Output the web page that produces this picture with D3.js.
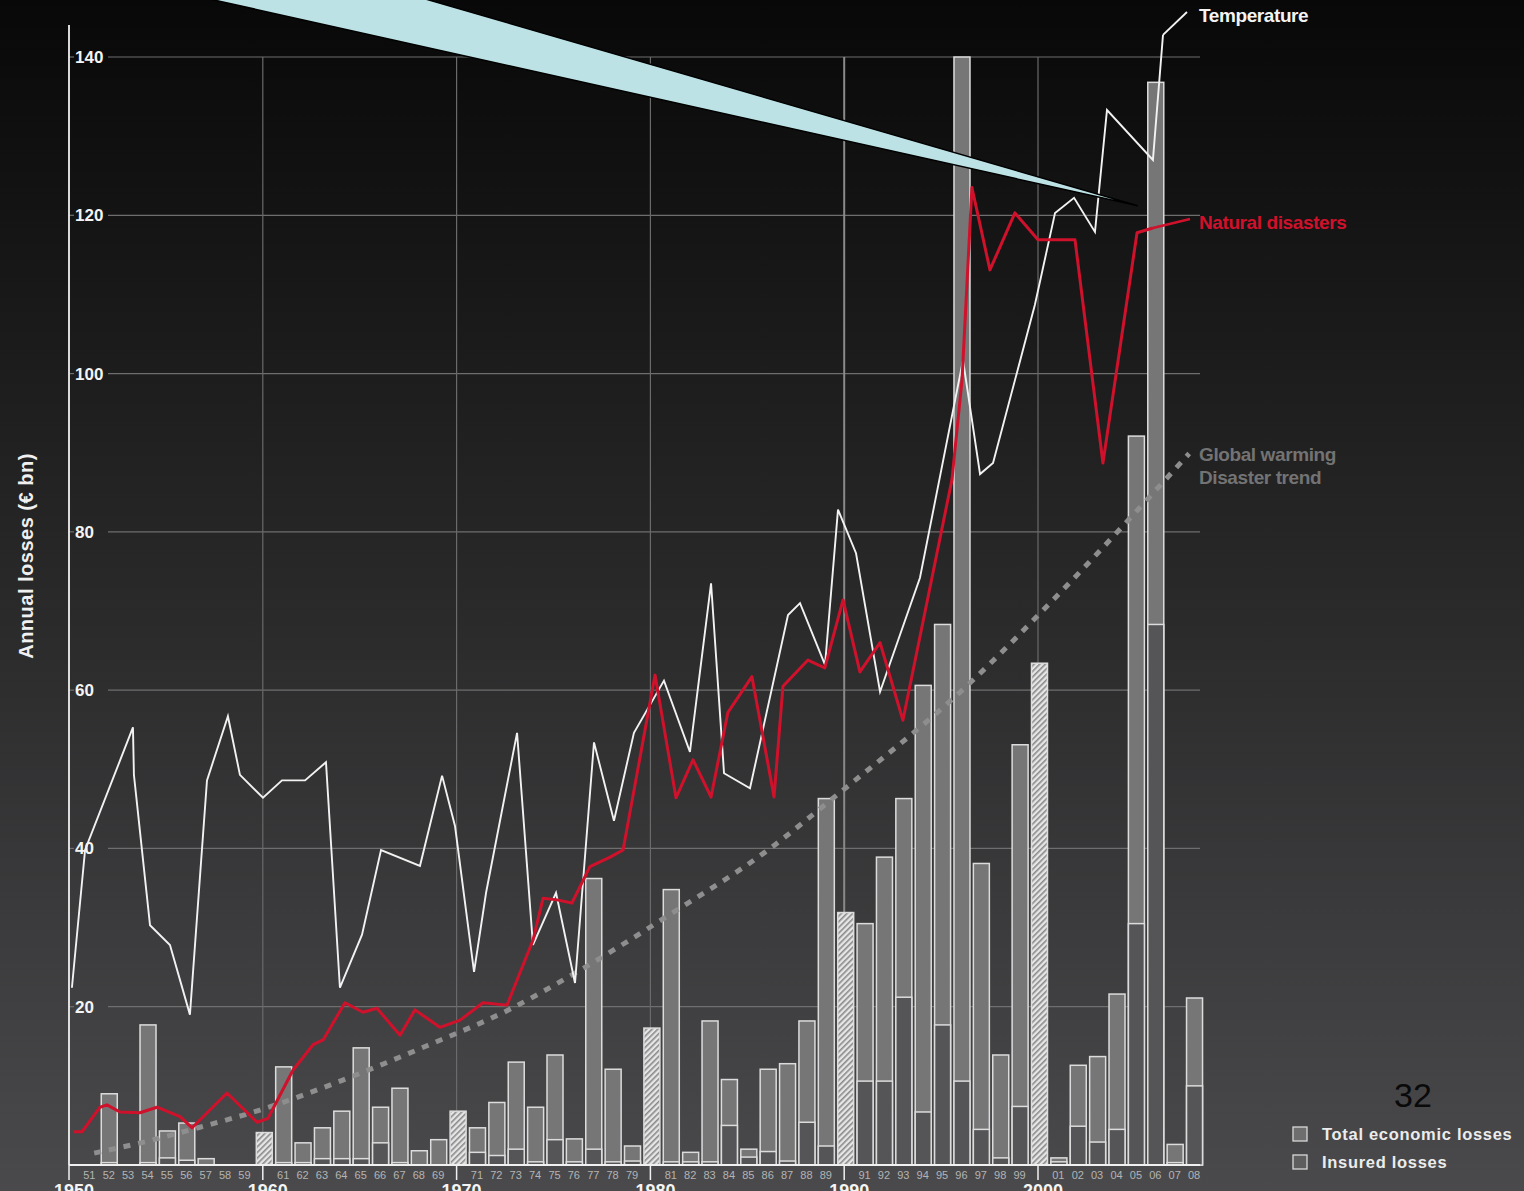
<!DOCTYPE html>
<html>
<head>
<meta charset="utf-8">
<script src="https://cdn.jsdelivr.net/npm/d3@7"></script>
<style>
  html, body { margin: 0; padding: 0; background: #000; }
  svg { display: block; }
  text { font-family: "Liberation Sans", Arial, sans-serif; }
</style>
</head>
<body>
<script>
// years 1950..2008
var years = d3.range(1950, 2009);
var decades = [1950, 1960, 1970, 1980, 1990, 2000];

// total economic losses (€ bn), one per year
var totalLosses = [
  0, 0, 9.0, 0, 17.7, 4.3, 5.3, 0.8, 0, 0,
  4.1, 12.4, 2.8, 4.7, 6.8, 14.8, 7.3, 9.7, 1.8, 3.2,
  6.8, 4.7, 7.9, 13.0, 7.3, 13.9, 3.3, 36.2, 12.1, 2.4,
  17.3, 34.8, 1.6, 18.2, 10.8, 2.0, 12.1, 12.8, 18.2, 46.3,
  31.9, 30.5, 38.9, 46.3, 60.6, 68.3, 140, 38.1, 13.9, 53.1,
  63.4, 0.9, 12.6, 13.7, 21.6, 92.1, 136.8, 2.6, 21.1
];
// insured losses (€ bn)
var insuredLosses = [
  0, 0, 0.3, 0, 0.3, 0.9, 0.6, 0, 0, 0,
  0, 0.3, 0.3, 0.8, 0.8, 0.8, 2.8, 0.3, 0, 0,
  0, 1.6, 1.2, 2.0, 0.4, 3.2, 0.4, 2.0, 0.4, 0.5,
  0, 0.4, 0.4, 0.4, 5.0, 1.0, 1.7, 0.5, 5.4, 2.4,
  0, 10.6, 10.6, 21.2, 6.7, 17.7, 10.6, 4.5, 0.9, 7.4,
  0, 0.4, 4.9, 2.9, 4.5, 30.5, 68.3, 0.3, 10.0
];

// temperature curve (drawn on the loss axis), x in years
var tempX = [1950.15, 1950.83, 1953.30, 1953.35, 1954.18, 1955.21, 1956.24, 1957.12, 1958.20, 1958.82,
  1960.01, 1960.99, 1962.18, 1963.26, 1963.98, 1965.12, 1966.10, 1968.11, 1969.25, 1969.92,
  1970.90, 1971.52, 1973.12, 1973.94, 1975.13, 1976.11, 1977.09, 1978.12, 1979.15, 1980.70,
  1982.04, 1983.13, 1983.80, 1985.14, 1987.10, 1987.72, 1989.01, 1989.68, 1990.61, 1991.85,
  1993.91, 1996.13, 1997.01, 1997.68, 1999.84, 2000.88, 2001.86, 2002.94, 2003.56, 2005.93, 2006.45];
var tempY = [22.4, 39.8, 55.3, 49.3, 30.3, 27.8, 19.0, 48.6, 56.7, 49.3,
  46.4, 48.6, 48.6, 50.9, 22.4, 29.1, 39.8, 37.8, 49.2, 42.8,
  24.4, 34.4, 54.6, 27.8, 34.4, 23.0, 53.4, 43.5, 54.6, 61.2,
  52.2, 73.5, 49.5, 47.6, 69.5, 71.0, 63.2, 82.8, 77.3, 59.8,
  74.2, 101.7, 87.3, 88.7, 108.7, 120.3, 122.2, 117.9, 133.3, 127.0, 142.8];

// natural disasters curve
var disX = [1950.21, 1950.67, 1951.60, 1951.96, 1952.63, 1953.66, 1954.54, 1955.73, 1956.35, 1958.15,
  1959.70, 1960.27, 1961.56, 1962.59, 1963.11, 1964.24, 1965.17, 1965.89, 1967.08, 1967.85,
  1969.14, 1970.18, 1971.36, 1972.60, 1973.94, 1974.46, 1975.18, 1975.95, 1976.88, 1977.92,
  1978.59, 1980.24, 1981.32, 1982.20, 1983.13, 1984.00, 1985.24, 1986.38, 1986.84, 1988.13,
  1989.00, 1989.94, 1990.81, 1991.85, 1993.03, 1995.56, 1996.08, 1996.59, 1997.52, 1998.81,
  2000.00, 2001.91, 2003.35, 2005.11, 2005.93];
var disY = [4.2, 4.2, 7.3, 7.6, 6.7, 6.6, 7.3, 6.1, 4.7, 9.1,
  5.4, 5.9, 12.0, 15.2, 15.8, 20.5, 19.3, 19.8, 16.4, 19.6,
  17.4, 18.3, 20.5, 20.2, 28.4, 33.7, 33.5, 33.1, 37.7, 38.9,
  39.8, 61.9, 46.4, 51.2, 46.5, 57.2, 61.7, 46.5, 60.5, 63.8,
  62.8, 71.4, 62.3, 66.0, 56.2, 86.6, 99.2, 123.5, 113.1, 120.3,
  116.9, 116.9, 88.7, 117.8, 118.4];

// global warming disaster trend
var trendX = [1951.3, 1953.7, 1956.8, 1959.8, 1964.1, 1968.5, 1972.6, 1976.5, 1981.1, 1985.9, 1989.7, 1996.4, 2000.7, 2007.8];
var trendY = [1.5, 2.8, 4.8, 6.9, 10.7, 15.1, 19.5, 24.8, 31.8, 39.5, 46.9, 60.7, 71.2, 89.9];

var yTicks = [20, 40, 60, 80, 100, 120, 140];

var W = 1524, H = 1191;
var svg = d3.select("body").append("svg")
    .attr("width", W)
    .attr("height", H);

var defs = svg.append("defs");
var bg = defs.append("linearGradient")
    .attr("id", "bg")
    .attr("x1", 0).attr("y1", 0).attr("x2", 0).attr("y2", 1);
bg.append("stop").attr("offset", "0%").attr("stop-color", "#080808");
bg.append("stop").attr("offset", "100%").attr("stop-color", "#4a4a4c");

var hatch = defs.append("pattern")
    .attr("id", "hatch")
    .attr("patternUnits", "userSpaceOnUse")
    .attr("width", 4).attr("height", 4)
    .attr("patternTransform", "rotate(45)");
hatch.append("rect").attr("width", 4).attr("height", 4).attr("fill", "#e6e6e6");
hatch.append("rect").attr("width", 1.6).attr("height", 4).attr("fill", "#8a8a8a");

svg.append("rect")
    .attr("width", W).attr("height", H)
    .attr("fill", "url(#bg)");

var x = d3.scaleLinear().domain([1950, 2010]).range([69, 69 + 60 * 19.38]);
var y = d3.scaleLinear().domain([0, 140]).range([1165, 57]);
var xRight = 1200;

// grid
svg.selectAll(".hgrid")
    .data(yTicks)
    .enter().append("line")
    .attr("x1", 108).attr("x2", xRight)
    .attr("y1", function (d) { return y(d); })
    .attr("y2", function (d) { return y(d); })
    .attr("stroke", "#6e6e6e")
    .attr("stroke-width", 1.2);

svg.selectAll(".hgrid2")
    .data(yTicks)
    .enter().append("line")
    .attr("x1", x(1950)).attr("x2", x(1950) + 5)
    .attr("y1", function (d) { return y(d); })
    .attr("y2", function (d) { return y(d); })
    .attr("stroke", "#6e6e6e")
    .attr("stroke-width", 1.2);

svg.selectAll(".vgrid")
    .data(decades.slice(1))
    .enter().append("line")
    .attr("x1", function (d) { return x(d); })
    .attr("x2", function (d) { return x(d); })
    .attr("y1", y(140)).attr("y2", y(0))
    .attr("stroke", function (d) { return d == 1990 ? "#8a8a8a" : "#6a6a6a"; })
    .attr("stroke-width", function (d) { return d == 1990 ? 2 : 1.2; });

// bars
var barW = 16;
var bars = svg.append("g");
years.forEach(function (yr, i) {
    var t = totalLosses[i], ins = insuredLosses[i];
    if (t <= 0) return;
    var bx = x(yr) + 1.5 - barW / 2;
    var isDecade = yr % 10 == 0;
    bars.append("rect")
        .attr("x", bx).attr("y", y(t))
        .attr("width", barW).attr("height", y(0) - y(t))
        .attr("fill", isDecade ? "url(#hatch)" : "#767676")
        .attr("stroke", "#dcdcdc")
        .attr("stroke-width", 1.5);
    if (!isDecade && ins > 0) {
        bars.append("rect")
            .attr("x", bx).attr("y", y(ins))
            .attr("width", barW).attr("height", y(0) - y(ins))
            .attr("fill", "#555557")
            .attr("stroke", "#dcdcdc")
            .attr("stroke-width", 1.5);
    }
});

// trend line
var trendPts = trendX.map(function (d, i) { return [d, trendY[i]]; });
svg.append("path")
    .attr("d", d3.line()
        .x(function (d) { return x(d[0]); })
        .y(function (d) { return y(d[1]); })
        .curve(d3.curveMonotoneX)(trendPts))
    .attr("fill", "none")
    .attr("stroke", "#8e8e8e")
    .attr("stroke-width", 5)
    .attr("stroke-dasharray", "7,8");

// temperature line
var tempPts = tempX.map(function (d, i) { return [d, tempY[i]]; });
var linePath = d3.line()
    .x(function (d) { return x(d[0]); })
    .y(function (d) { return y(d[1]); });
svg.append("path")
    .attr("d", linePath(tempPts))
    .attr("fill", "none")
    .attr("stroke", "#f2f2f2")
    .attr("stroke-width", 1.9)
    .attr("stroke-linejoin", "miter");

// natural disasters line
var disPts = disX.map(function (d, i) { return [d, disY[i]]; });
svg.append("path")
    .attr("d", linePath(disPts))
    .attr("fill", "none")
    .attr("stroke", "#d0112b")
    .attr("stroke-width", 3)
    .attr("stroke-linejoin", "round");

// axes
svg.append("line")
    .attr("x1", x(1950)).attr("x2", x(1950))
    .attr("y1", 25).attr("y2", y(0))
    .attr("stroke", "#f0f0f0").attr("stroke-width", 1.8);
svg.append("line")
    .attr("x1", x(1950)).attr("x2", xRight)
    .attr("y1", y(0)).attr("y2", y(0))
    .attr("stroke", "#f0f0f0").attr("stroke-width", 1.8);

svg.selectAll(".dtick")
    .data(decades)
    .enter().append("line")
    .attr("x1", function (d) { return x(d); })
    .attr("x2", function (d) { return x(d); })
    .attr("y1", y(0)).attr("y2", y(0) + 15)
    .attr("stroke", "#f0f0f0").attr("stroke-width", 1.5);

svg.selectAll(".ylab")
    .data(yTicks)
    .enter().append("text")
    .attr("x", 75)
    .attr("y", function (d) { return y(d) + 6; })
    .attr("fill", "#f4f4f4")
    .attr("font-size", 17)
    .attr("font-weight", "bold")
    .text(function (d) { return d; });

svg.selectAll(".xlab")
    .data(years.filter(function (d) { return d % 10 != 0; }))
    .enter().append("text")
    .attr("x", function (d) { return x(d) + 1; })
    .attr("y", 1179)
    .attr("text-anchor", "middle")
    .attr("fill", "#b4b4b4")
    .attr("font-size", 11)
    .text(function (d) { return String(d).slice(2); });

svg.selectAll(".declab")
    .data(decades)
    .enter().append("text")
    .attr("x", function (d) { return x(d) + 5; })
    .attr("y", 1197)
    .attr("text-anchor", "middle")
    .attr("fill", "#f4f4f4")
    .attr("font-size", 18)
    .attr("font-weight", "bold")
    .text(function (d) { return d; });

svg.append("text")
    .attr("transform", "translate(33,556) rotate(-90)")
    .attr("text-anchor", "middle")
    .attr("fill", "#f0f0f0")
    .attr("font-size", 20)
    .attr("font-weight", "bold")
    .attr("letter-spacing", 0.5)
    .text("Annual losses (€ bn)");

// line labels with leaders
var lastT = tempPts[tempPts.length - 1];
svg.append("line")
    .attr("x1", x(lastT[0])).attr("y1", y(lastT[1]))
    .attr("x2", 1187).attr("y2", 12)
    .attr("stroke", "#f2f2f2").attr("stroke-width", 1.9);

var labelStyle = function (sel) {
    sel.attr("font-size", 19)
        .attr("font-weight", "bold")
        .attr("letter-spacing", -0.4);
};
svg.append("text")
    .attr("x", 1199).attr("y", 22)
    .attr("fill", "#f4f4f4")
    .call(labelStyle)
    .text("Temperature");

var lastD = disPts[disPts.length - 1];
svg.append("line")
    .attr("x1", x(lastD[0])).attr("y1", y(lastD[1]))
    .attr("x2", 1190).attr("y2", 219)
    .attr("stroke", "#d0112b").attr("stroke-width", 2.5);
svg.append("text")
    .attr("x", 1199).attr("y", 229)
    .attr("fill", "#d0112b")
    .call(labelStyle)
    .text("Natural disasters");

svg.append("text")
    .attr("x", 1199).attr("y", 461)
    .attr("fill", "#737373")
    .call(labelStyle)
    .text("Global warming");
svg.append("text")
    .attr("x", 1199).attr("y", 484)
    .attr("fill", "#737373")
    .call(labelStyle)
    .text("Disaster trend");

// callout wedge
svg.append("polygon")
    .attr("points", [[205, -2], [422, -2], [x(2005.15), y(121.2)]].map(function (p) { return p.join(","); }).join(" "))
    .attr("fill", "#bce2e5")
    .attr("stroke", "#000")
    .attr("stroke-width", 1.5);

// legend
var legend = [
    { label: "Total economic losses", fill: "#6e6e6e" },
    { label: "Insured losses", fill: "#5e5e5e" }
];
var lg = svg.selectAll(".lg")
    .data(legend)
    .enter().append("g")
    .attr("transform", function (d, i) { return "translate(1293," + (1127 + i * 28) + ")"; });
lg.append("rect")
    .attr("width", 14).attr("height", 14)
    .attr("fill", function (d) { return d.fill; })
    .attr("stroke", "#d8d8d8").attr("stroke-width", 1.3);
lg.append("text")
    .attr("x", 29).attr("y", 13)
    .attr("fill", "#ececec")
    .attr("font-size", 16.5)
    .attr("font-weight", "bold")
    .attr("letter-spacing", 0.7)
    .text(function (d) { return d.label; });

svg.append("text")
    .attr("x", 1413).attr("y", 1107)
    .attr("text-anchor", "middle")
    .attr("fill", "#0a0a0a")
    .attr("font-size", 34)
    .text("32");
</script>
</body>
</html>
